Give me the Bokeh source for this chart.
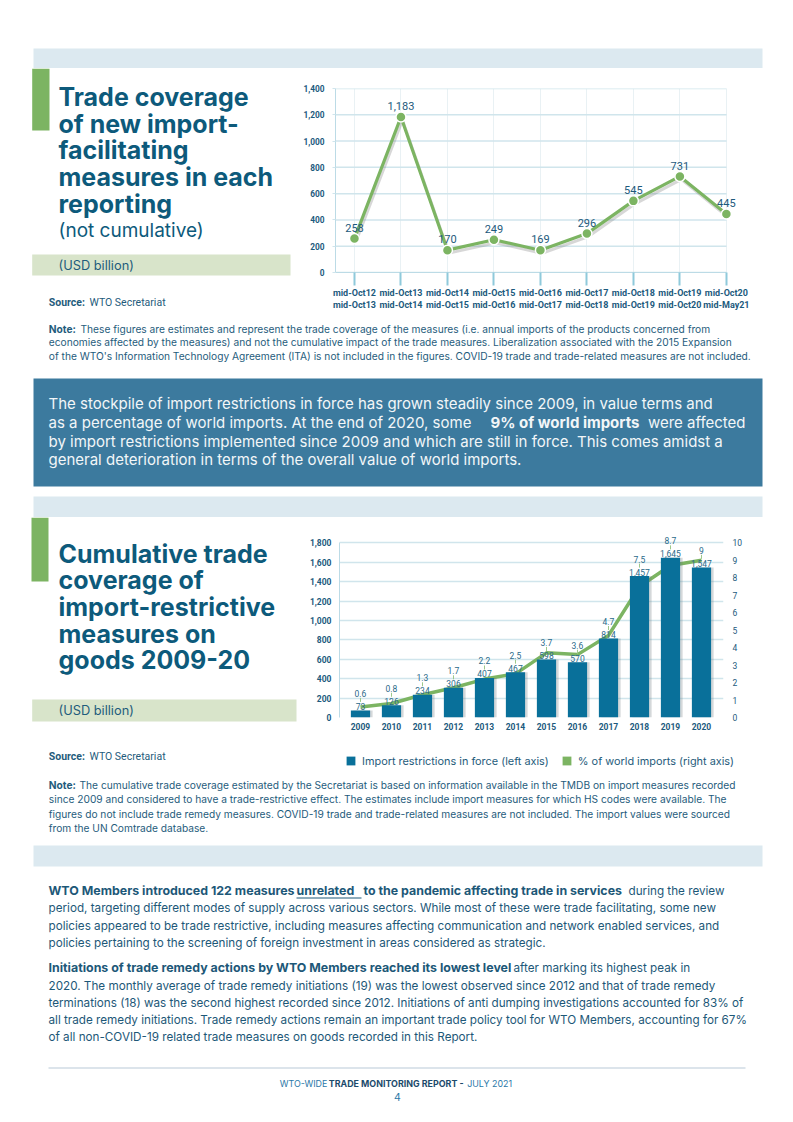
from bokeh.plotting import figure
from bokeh.layouts import column, row
from bokeh.models import Range1d, FixedTicker, NumeralTickFormatter, LinearAxis, Legend, LegendItem
from bokeh.core.properties import value
from bokeh.embed import file_html
from bokeh.resources import INLINE

# ---------------- data ----------------
periods = ["mid-Oct12\nmid-Oct13", "mid-Oct13\nmid-Oct14", "mid-Oct14\nmid-Oct15",
           "mid-Oct15\nmid-Oct16", "mid-Oct16\nmid-Oct17", "mid-Oct17\nmid-Oct18",
           "mid-Oct18\nmid-Oct19", "mid-Oct19\nmid-Oct20", "mid-Oct20\nmid-May21"]
coverage = [258, 1183, 170, 249, 169, 296, 545, 731, 445]
coverage_ticks = [0, 200, 400, 600, 800, 1000, 1200, 1400]

years = ["2009", "2010", "2011", "2012", "2013", "2014", "2015", "2016", "2017", "2018", "2019", "2020"]
restrictions = [73, 126, 234, 306, 407, 467, 598, 570, 814, 1457, 1645, 1547]
world_share = [0.6, 0.8, 1.3, 1.7, 2.2, 2.5, 3.7, 3.6, 4.7, 7.5, 8.7, 9]
share_labels = ["0.6", "0.8", "1.3", "1.7", "2.2", "2.5", "3.7", "3.6", "4.7", "7.5", "8.7", "9"]
restriction_ticks = [0, 200, 400, 600, 800, 1000, 1200, 1400, 1600, 1800]
share_ticks = [0, 1, 2, 3, 4, 5, 6, 7, 8, 9, 10]
legend_labels = ["Import restrictions in force (left axis)", "% of world imports (right axis)"]

# ---------------- style ----------------
BODY = "Inter"
CHART = "Roboto"
HEAD = "Inter"
TITLE_C = "#0d5a7b"
TEXT_C = "#1f5c7c"
GREEN = "#7cb462"
BAND = "#dce9f0"
BOX = "#3c7a9e"
USD = "#d8e4ca"
BAR = "#09709a"
GRID = "#d0e5ec"
AXC = "#1c5a7d"
LBL = "#2b6a8a"
NAN = float("nan")


def canvas(x0, x1, y0, y1):
    p = figure(width=round(x1 - x0), height=round(y1 - y0),
               x_range=Range1d(x0, x1), y_range=Range1d(y1, y0),
               x_axis_type=None, y_axis_type=None,
               output_backend="svg", toolbar_location=None, min_border=0)
    p.outline_line_color = None
    p.background_fill_color = "white"
    p.border_fill_color = "white"
    p.frame_align = False
    return p


def put(p, x, y, s, size, color=TEXT_C, bold=False, font=BODY, align="left", baseline="middle"):
    p.text(x=[x], y=[y], text=[s], text_font=value(font), text_font_size=f"{size}px",
           text_font_style="bold" if bold else "normal", text_color=color,
           text_align=align, text_baseline=baseline)


def box(p, x0, x1, y0, y1, color):
    p.quad(left=[x0], right=[x1], top=[y0], bottom=[y1], fill_color=color, line_color=None)


# ---------------- top band ----------------
T = canvas(0, 785, 0, 68)
box(T, 33, 762, 48, 68, BAND)

# ---------------- section 1 left ----------------
TS = 25
L1 = canvas(0, 300, 68, 312)
box(L1, 31.7, 49, 68, 130, GREEN)
for i, s in enumerate(["Trade coverage", "of new import-", "facilitating", "measures in each", "reporting"]):
    put(L1, 58, 96.7 + 26.6 * i, s, TS, TITLE_C, bold=True, font=HEAD, baseline="alphabetic")
put(L1, 58, 229.5, "(not cumulative)", 19, TITLE_C, font=HEAD, baseline="alphabetic")
box(L1, 31.7, 290, 254, 275, USD)
put(L1, 58, 264.5, "(USD billion)", 12.8, TEXT_C)
put(L1, 48.3, 301.7, "Source:", 10.5, TEXT_C, bold=True, font=CHART)
put(L1, 89, 301.7, "WTO Secretariat", 10.5, TEXT_C, font=CHART)

# ---------------- chart 1 ----------------
xs1 = list(range(len(coverage)))
X1_START, X1_LAST = -0.408, 8.004
c1 = figure(width=485, height=244, x_range=Range1d(X1_START, 8.519), y_range=Range1d(0, 1400),
            output_backend="svg", toolbar_location=None,
            min_border_left=34, min_border_right=35, min_border_top=20, min_border_bottom=38)
c1.frame_align = False
c1.outline_line_color = None
c1.background_fill_color = "white"
c1.border_fill_color = "white"
upp1 = 1400 / 186.0
c1.extra_y_ranges = {"sh": Range1d(3 * upp1, 1400 + 3 * upp1)}
c1.extra_x_ranges = {"sh": Range1d(X1_START - 1.5 / 46.6, 8.519 - 1.5 / 46.6)}

c1.ygrid.visible = False
c1.segment(x0=[X1_START] * len(coverage_ticks), y0=coverage_ticks,
           x1=[X1_LAST] * len(coverage_ticks), y1=coverage_ticks,
           line_color=GRID, line_width=1.5)
c1.xgrid.ticker = FixedTicker(ticks=xs1)
c1.xgrid.grid_line_color = "#e9f1f4"

c1.yaxis.ticker = FixedTicker(ticks=coverage_ticks)
c1.yaxis.formatter = NumeralTickFormatter(format="0,0")
c1.yaxis.axis_line_color = "#bcdbe6"
c1.yaxis.major_tick_line_color = GRID
c1.yaxis.major_tick_out = 3
c1.yaxis.major_tick_in = 0
c1.yaxis.minor_tick_line_color = None
c1.yaxis.major_label_standoff = 8
c1.yaxis.major_label_text_font = CHART
c1.yaxis.major_label_text_font_style = "bold"
c1.yaxis.major_label_text_font_size = "8.3px"
c1.yaxis.major_label_text_color = AXC

c1.xaxis.ticker = FixedTicker(ticks=xs1)
c1.xaxis.bounds = (X1_START, X1_LAST)
c1.xaxis.major_label_overrides = {i: s for i, s in enumerate(periods)}
c1.xaxis.axis_line_color = "#bcdbe6"
c1.xaxis.major_tick_line_color = "#8fcadb"
c1.xaxis.major_tick_line_width = 2
c1.xaxis.major_tick_out = 13
c1.xaxis.major_tick_in = 0
c1.xaxis.minor_tick_line_color = None
c1.xaxis.major_label_standoff = 2
c1.xaxis.major_label_text_font = CHART
c1.xaxis.major_label_text_font_style = "bold"
c1.xaxis.major_label_text_font_size = "9px"
c1.xaxis.major_label_text_color = AXC

c1.line(xs1, coverage, x_range_name="sh", y_range_name="sh", line_color="#7a7a7a",
        line_alpha=0.3, line_width=3)
c1.line(xs1, coverage, line_color=GREEN, line_width=3.2)
c1.scatter(xs1, coverage, size=10, fill_color=GREEN, line_color="white", line_width=1.5)
c1.text(xs1, [v + 11 * upp1 for v in coverage], text=[f"{v:,}" for v in coverage],
        text_font=value(CHART), text_font_size="11px", text_color="#1d5a7c",
        text_align="center", text_baseline="middle")

# ---------------- middle ----------------
M = canvas(0, 785, 312, 517)
NS = 10.2
note1 = ["These figures are estimates and represent the trade coverage of the measures (i.e. annual imports of the products concerned from",
         "economies affected by the measures) and not the cumulative impact of the trade measures. Liberalization associated with the 2015 Expansion",
         "of the WTO's Information Technology Agreement (ITA) is not included in the figures. COVID-19 trade and trade-related measures are not included."]
put(M, 48.3, 328.3, "Note:", NS, TEXT_C, bold=True)
put(M, 80, 328.3, note1[0], NS, TEXT_C)
put(M, 48.3, 341.7, note1[1], NS, TEXT_C)
put(M, 48.3, 355, note1[2], NS, TEXT_C)

box(M, 33, 762, 378, 486, BOX)
WHITE = "#f2f6f8"
BS = 15
put(M, 48, 403.3, "The stockpile of import restrictions in force has grown steadily since 2009, in value terms and", BS, WHITE)
put(M, 48, 422.3, "as a percentage of world imports. At the end of 2020, some", BS, WHITE)
put(M, 490, 422.3, "9% of world imports", BS, WHITE, bold=True)
put(M, 745, 422.3, "were affected", BS, WHITE, align="right")
put(M, 48, 441, "by import restrictions implemented since 2009 and which are still in force. This comes amidst a", BS, WHITE)
put(M, 48, 459.3, "general deterioration in terms of the overall value of world imports.", BS, WHITE)
box(M, 33, 762, 496, 517, BAND)

# ---------------- section 2 left ----------------
L2 = canvas(0, 300, 517, 745)
box(L2, 31, 48, 517, 581, GREEN)
for i, s in enumerate(["Cumulative trade", "coverage of", "import-restrictive", "measures on", "goods 2009-20"]):
    put(L2, 58, 553.3 + 26.6 * i, s, TS, TITLE_C, bold=True, font=HEAD, baseline="alphabetic")
box(L2, 31.7, 296, 699, 721, USD)
put(L2, 58, 710, "(USD billion)", 12.8, TEXT_C)

# ---------------- chart 2 ----------------
xs2 = list(range(len(years)))
X2_START, X2_END = -0.677, 11.71
upp2 = 1800 / 174.4
Y2_END = 1800 + 17.3 * upp2
c2 = figure(width=485, height=228, x_range=Range1d(X2_START, X2_END), y_range=Range1d(0, Y2_END),
            output_backend="svg", toolbar_location=None,
            min_border_left=39, min_border_right=62, min_border_top=8, min_border_bottom=28)
c2.frame_align = False
c2.outline_line_color = None
c2.background_fill_color = "white"
c2.border_fill_color = "white"
c2.extra_y_ranges = {"pct": Range1d(0, Y2_END / 180.0)}
c2.extra_x_ranges = {"sh": Range1d(X2_START - 2.5 / 31, X2_END - 2.5 / 31)}

c2.ygrid.ticker = FixedTicker(ticks=restriction_ticks)
c2.ygrid.grid_line_color = GRID
c2.ygrid.grid_line_width = 1.5
c2.xgrid.visible = False

c2.yaxis.ticker = FixedTicker(ticks=restriction_ticks)
c2.yaxis.bounds = (0, 1800)
c2.yaxis.formatter = NumeralTickFormatter(format="0,0")
c2.yaxis.axis_line_color = "#bcdbe6"
c2.yaxis.major_tick_line_color = None
c2.yaxis.major_tick_out = 0
c2.yaxis.major_tick_in = 0
c2.yaxis.minor_tick_line_color = None
c2.yaxis.major_label_standoff = 8
c2.yaxis.major_label_text_font = CHART
c2.yaxis.major_label_text_font_style = "bold"
c2.yaxis.major_label_text_font_size = "8.5px"
c2.yaxis.major_label_text_color = AXC

raxis = LinearAxis(y_range_name="pct", ticker=FixedTicker(ticks=share_ticks))
raxis.axis_line_color = None
raxis.major_tick_line_color = None
raxis.major_tick_out = 0
raxis.major_tick_in = 0
raxis.minor_tick_line_color = None
raxis.major_label_standoff = 9
raxis.major_label_text_font = CHART
raxis.major_label_text_font_size = "8.5px"
raxis.major_label_text_color = AXC
c2.add_layout(raxis, "right")

c2.xaxis.ticker = FixedTicker(ticks=xs2)
c2.xaxis.major_label_overrides = {i: s for i, s in enumerate(years)}
c2.xaxis.axis_line_color = None
c2.xaxis.major_tick_line_color = None
c2.xaxis.major_tick_out = 0
c2.xaxis.major_tick_in = 0
c2.xaxis.minor_tick_line_color = None
c2.xaxis.major_label_standoff = 5
c2.xaxis.major_label_text_font = CHART
c2.xaxis.major_label_text_font_style = "bold"
c2.xaxis.major_label_text_font_size = "8.5px"
c2.xaxis.major_label_text_color = AXC

c2.line(xs2, world_share, y_range_name="pct", line_color=GREEN, line_width=3.5)
c2.vbar(x=xs2, top=restrictions, width=0.62, x_range_name="sh", fill_color="#6f7d83",
        fill_alpha=0.3, line_color=None)
c2.vbar(x=xs2, top=restrictions, width=0.62, fill_color=BAR, line_color=None)

c2.text(xs2, [v + 4 * upp2 for v in restrictions], text=[f"{v:,}" for v in restrictions],
        text_font=value(CHART), text_font_size="8.5px", text_color=LBL,
        text_align="center", text_baseline="middle")
c2.segment(x0=xs2, y0=[v + 8.5 * upp2 for v in restrictions],
           x1=xs2, y1=[v + 12.5 * upp2 for v in restrictions],
           line_color="#9cc98a", line_width=1)
c2.text(xs2, [v + 17 * upp2 for v in restrictions], text=share_labels,
        text_font=value(CHART), text_font_size="8.5px", text_color=LBL,
        text_align="center", text_baseline="middle")

# ---------------- bottom ----------------
B = canvas(0, 785, 745, 1114)
put(B, 48.3, 755.7, "Source:", 10.5, TEXT_C, bold=True, font=CHART)
put(B, 89, 755.7, "WTO Secretariat", 10.5, TEXT_C, font=CHART)

# legend of chart 2 (drawn just under the chart); key glyphs carry no visible data
key_bar = B.quad(left=[NAN], right=[NAN], top=[NAN], bottom=[NAN], fill_color=BAR, line_color=None)
key_share = B.quad(left=[NAN], right=[NAN], top=[NAN], bottom=[NAN], fill_color=GREEN, line_color=None)
legend = Legend(items=[LegendItem(label=legend_labels[0], renderers=[key_bar]),
                       LegendItem(label=legend_labels[1], renderers=[key_share])],
                location=(345, 346.3), orientation="horizontal")
legend.border_line_color = None
legend.background_fill_alpha = 0
legend.padding = 0
legend.margin = 0
legend.spacing = 12
legend.label_standoff = 6
legend.glyph_width = 11
legend.glyph_height = 11
legend.label_height = 11
legend.label_text_font = BODY
legend.label_text_font_size = "10.9px"
legend.label_text_color = TEXT_C
B.add_layout(legend)

note2 = ["The cumulative trade coverage estimated by the Secretariat is based on information available in the TMDB on import measures recorded",
         "since 2009 and considered to have a trade-restrictive effect. The estimates include import measures for which HS codes were available. The",
         "figures do not include trade remedy measures. COVID-19 trade and trade-related measures are not included. The import values were sourced",
         "from the UN Comtrade database."]
put(B, 48.3, 784, "Note:", NS, TEXT_C, bold=True)
put(B, 79, 784, note2[0], NS, TEXT_C)
put(B, 48.3, 798.5, note2[1], NS, TEXT_C)
put(B, 48.3, 813, note2[2], NS, TEXT_C)
put(B, 48.3, 827, note2[3], NS, TEXT_C)

box(B, 33, 762, 845, 866, BAND)

PC = "#1d5878"
PS = 11.7
PB = 12.4
put(B, 48, 890, "WTO Members introduced 122 measures", PB, PC, bold=True)
put(B, 296, 890, "unrelated", PB, PC, bold=True)
B.segment(x0=[296], y0=[897.5], x1=[361], y1=[897.5], line_color=PC, line_width=1)
put(B, 363, 890, "to the pandemic affecting trade in services", PB, PC, bold=True)
put(B, 628, 890, "during the review", PS, PC)
put(B, 48, 907.3, "period, targeting different modes of supply across various sectors. While most of these were trade facilitating, some new", PS, PC)
put(B, 48, 925, "policies appeared to be trade restrictive, including measures affecting communication and network enabled services, and", PS, PC)
put(B, 48, 942.3, "policies pertaining to the screening of foreign investment in areas considered as strategic.", PS, PC)

put(B, 48, 967.3, "Initiations of trade remedy actions by WTO Members reached its lowest level", PB, PC, bold=True)
put(B, 513, 967.3, "after marking its highest peak in", PS, PC)
put(B, 48, 985, "2020. The monthly average of trade remedy initiations (19) was the lowest observed since 2012 and that of trade remedy", PS, PC)
put(B, 48, 1002.3, "terminations (18) was the second highest recorded since 2012. Initiations of anti dumping investigations accounted for 83% of", PS, PC)
put(B, 48, 1019.3, "all trade remedy initiations. Trade remedy actions remain an important trade policy tool for WTO Members, accounting for 67%", PS, PC)
put(B, 48, 1036.7, "of all non-COVID-19 related trade measures on goods recorded in this Report.", PS, PC)

B.segment(x0=[48], y0=[1067.5], x1=[745], y1=[1067.5], line_color="#b9cad8", line_width=1.2)
FS = 8.9
put(B, 279.3, 1083, "WTO-WIDE", FS, "#2a78a8")
put(B, 328.3, 1083, "TRADE MONITORING REPORT -", FS, "#1c4a6b", bold=True)
put(B, 466.7, 1083, "JULY 2021", FS, "#2a78a8")
put(B, 397, 1096, "4", 10.5, "#2a78a8", align="center")

layout = column(T, row(L1, c1), M, row(L2, c2), B)

open("out.html", "w").write(file_html(layout, INLINE))
